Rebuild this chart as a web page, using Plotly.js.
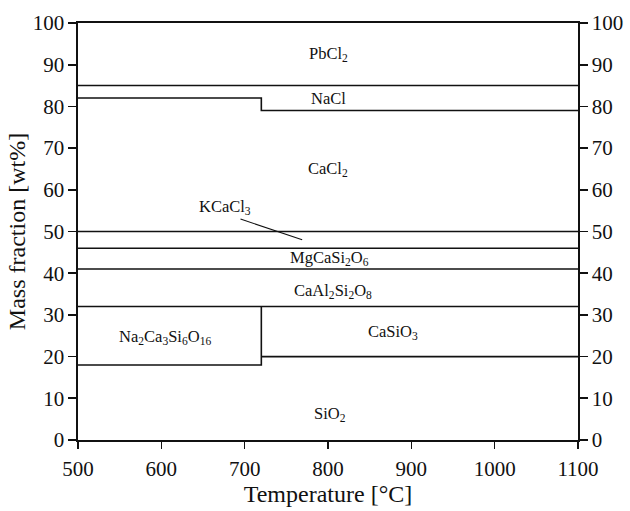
<!DOCTYPE html>
<html>
<head>
<meta charset="utf-8">
<script src="https://cdn.plot.ly/plotly-3.0.1.min.js"></script>
<style>html,body{margin:0;padding:0;background:#fff;}#chart{width:630px;height:511px;}</style>
</head>
<body>
<div id="chart"></div>
<script>
// Phase boundary lines (Temperature [°C], Mass fraction [wt%])
const pbcl2X = [500, 1100];            const pbcl2Y = [85, 85];
const naclX  = [500, 720, 720, 1100];  const naclY  = [82, 82, 79, 79];
const cacl2X = [500, 1100];            const cacl2Y = [50, 50];
const kcaclX = [500, 1100];            const kcaclY = [46, 46];
const mgcaX  = [500, 1100];            const mgcaY  = [41, 41];
const caalX  = [500, 1100];            const caalY  = [32, 32];
const na2caX = [500, 720, 720];        const na2caY = [18, 18, 32];
const casioX = [720, 1100];            const casioY = [20, 20];
const leaderX = [695, 769];            const leaderY = [53, 48];

// Region labels
const labelText = ['PbCl<sub>2</sub>', 'NaCl', 'CaCl<sub>2</sub>', 'KCaCl<sub>3</sub>',
  'MgCaSi<sub>2</sub>O<sub>6</sub>', 'CaAl<sub>2</sub>Si<sub>2</sub>O<sub>8</sub>',
  'Na<sub>2</sub>Ca<sub>3</sub>Si<sub>6</sub>O<sub>16</sub>', 'CaSiO<sub>3</sub>', 'SiO<sub>2</sub>'];
const labelX = [800, 800, 800, 676, 802, 806, 604, 878, 802];
const labelY = [92.5, 82, 65, 55.8, 43.6, 35.8, 24.6, 25.8, 6.3];

const xTicks = [500, 600, 700, 800, 900, 1000, 1100];
const yTicks = [0, 10, 20, 30, 40, 50, 60, 70, 80, 90, 100];

const lineStyle = {color: '#111', width: 1.6};
const series = [[pbcl2X,pbcl2Y],[naclX,naclY],[cacl2X,cacl2Y],[kcaclX,kcaclY],[mgcaX,mgcaY],
  [caalX,caalY],[na2caX,na2caY],[casioX,casioY]];
const traces = series.map(s => ({x: s[0], y: s[1], mode: 'lines', line: lineStyle,
  hoverinfo: 'skip', showlegend: false}));
traces.push({x: leaderX, y: leaderY, mode: 'lines', line: {color: '#111', width: 1.1},
  hoverinfo: 'skip', showlegend: false});
// invisible trace to anchor the right-hand axis
traces.push({x: [500, 1100], y: [0, 100], yaxis: 'y2', mode: 'lines',
  line: {width: 0, color: 'rgba(0,0,0,0)'}, hoverinfo: 'skip', showlegend: false});

const serif = '"Liberation Serif"';
const tickFont = {family: serif, size: 21, color: '#111'};

const annotations = labelText.map((t, i) => ({x: labelX[i], y: labelY[i], text: t,
  showarrow: false, xanchor: 'center', yanchor: 'middle',
  font: {family: serif, size: 16.5, color: '#111'}}));

const layout = {
  width: 630, height: 511,
  margin: {l: 78, r: 52, t: 23, b: 71},
  paper_bgcolor: '#fff', plot_bgcolor: '#fff',
  showlegend: false,
  font: {family: serif, color: '#111'},
  xaxis: {range: [500, 1100], tickvals: xTicks, ticks: 'outside', ticklen: 7, tickwidth: 1.6,
    tickcolor: '#111', showline: true, linecolor: '#111', linewidth: 1.6, mirror: true,
    showgrid: false, zeroline: false, tickfont: tickFont, ticklabelstandoff: 2,
    title: {text: 'Temperature [°C]', font: {family: serif, size: 24, color: '#111'}, standoff: 4}},
  yaxis: {range: [0, 100], tickvals: yTicks, ticks: 'outside', ticklen: 8, tickwidth: 1.6,
    tickcolor: '#111', showline: true, linecolor: '#111', linewidth: 1.6,
    showgrid: false, zeroline: false, tickfont: tickFont,
    title: {text: 'Mass fraction [wt%]', font: {family: serif, size: 24, color: '#111'}, standoff: 0}},
  yaxis2: {range: [0, 100], tickvals: yTicks, overlaying: 'y', side: 'right', ticks: 'outside',
    ticklen: 8, tickwidth: 1.6, tickcolor: '#111', showline: true, linecolor: '#111', linewidth: 1.6,
    showgrid: false, zeroline: false, tickfont: tickFont},
  annotations: annotations
};

Plotly.newPlot('chart', traces, layout, {staticPlot: true, displayModeBar: false});
</script>
</body>
</html>
